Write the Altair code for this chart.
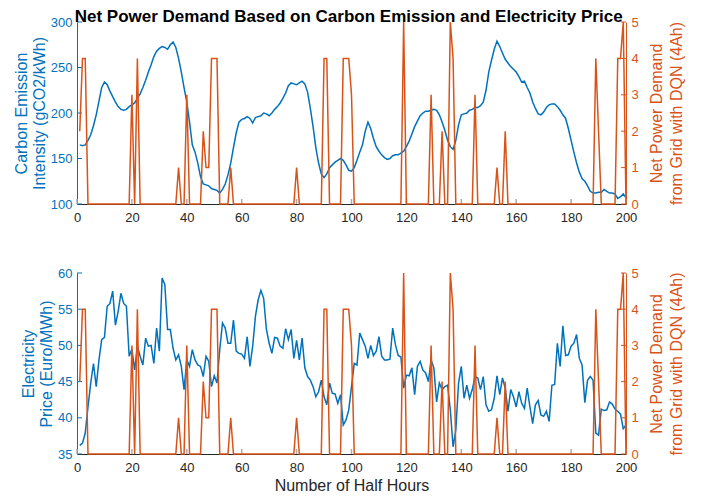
import altair as alt
import pandas as pd

half_hours = list(range(1, 201))

carbon = [
    165, 164, 165, 170, 176, 186, 198, 213, 228, 234,
    231, 224, 218, 212, 207, 204, 203, 204, 207, 209,
    211, 216, 221, 228, 236, 245, 253, 262, 268, 271,
    273, 272, 270, 275, 278, 272, 260, 245, 228, 212,
    190, 165, 157, 145, 130, 122, 121, 120, 117, 116,
    115, 112, 116, 122, 132, 145, 162, 178, 190, 193,
    194, 196, 194, 189, 195, 196, 197, 200, 199, 197,
    200, 204, 207, 211, 216, 222, 230, 233, 232, 231,
    233, 235, 232, 223, 205, 185, 162, 145, 133, 129,
    133, 140, 143, 146, 148, 150, 148, 143, 137, 136,
    140, 148, 157, 165, 180, 190, 183, 172, 163, 158,
    154, 151, 149, 150, 153, 154, 154, 156, 158, 163,
    169, 177, 185, 191, 197, 200, 202, 202, 203, 204,
    203, 198, 190, 181, 170, 163, 160, 170, 187, 198,
    199, 200, 203, 204, 206, 206, 208, 212, 225, 245,
    258, 270, 279, 273, 266, 259, 255, 251, 248, 245,
    240, 234, 235, 228, 222, 212, 205, 199, 198, 201,
    206, 209, 210, 210, 207, 203, 198, 194, 183, 170,
    157, 145, 135, 128, 125, 120, 114, 112, 112, 113,
    113, 116, 114, 112, 112, 111, 106, 108, 111, 107,
]

price = [
    36.2, 36.5, 37.9, 41.5, 44.8, 47.5, 44.3, 48.0, 50.8, 51.1,
    55.4, 55.8, 57.5, 52.8, 54.7, 57.2, 55.8, 55.4, 48.5, 49.5,
    46.6, 49.9, 48.5, 47.3, 51.0, 49.9, 50.0, 47.5, 52.4, 49.2,
    59.3, 58.4, 52.2, 52.2, 49.6, 48.0, 48.7, 47.1, 43.9, 48.0,
    47.1, 49.4, 48.0, 47.3, 47.1, 45.7, 48.5, 47.8, 44.3, 45.8,
    44.8, 49.4, 53.1, 52.4, 50.3, 50.3, 53.5, 49.2, 48.9, 48.8,
    48.2, 51.2, 47.1, 49.9, 54.0, 56.3, 57.6, 56.5, 52.2, 50.3,
    48.9, 51.1, 51.0, 49.9, 49.6, 52.3, 50.8, 52.2, 48.2, 50.7,
    48.0, 51.0, 46.9, 45.7, 45.2, 44.3, 42.9, 43.6, 45.2, 42.9,
    41.8, 44.8, 43.4, 43.3, 42.0, 43.2, 39.0, 39.7, 41.1, 44.3,
    47.5, 47.3, 51.7, 50.8, 49.9, 48.2, 50.0, 48.6, 49.2, 51.2,
    48.5, 48.0, 48.0, 48.1, 52.4, 50.1, 48.6, 48.4, 44.1, 45.9,
    45.8, 46.9, 43.2, 47.1, 47.8, 46.6, 46.2, 45.0, 48.0, 46.9,
    42.2, 44.8, 43.9, 44.3, 44.5, 41.1, 36.0, 38.3, 44.8, 47.1,
    42.7, 44.5, 42.7, 43.9, 45.7, 45.5, 43.9, 45.7, 41.8, 40.9,
    41.1, 42.7, 45.8, 43.2, 45.5, 44.1, 40.9, 43.9, 42.9, 41.5,
    43.6, 42.0, 41.3, 44.1, 41.5, 39.2, 41.8, 42.4, 40.4, 40.2,
    40.9, 39.5, 44.5, 44.6, 50.3, 47.1, 52.7, 48.6, 48.7, 49.9,
    50.3, 51.5, 48.2, 47.3, 42.1, 45.2, 45.7, 45.2, 37.9, 37.6,
    41.2, 41.0, 41.1, 42.2, 41.9, 41.2, 40.9, 40.5, 38.5, 39.0,
]

demand = [
    2, 4, 4, 0, 0, 0, 0, 0, 0, 0,
    0, 0, 0, 0, 0, 0, 0, 0, 0, 3,
    0, 4, 0, 0, 0, 0, 0, 0, 0, 0,
    0, 0, 0, 0, 0, 0, 1, 0, 0, 3,
    0, 0, 0, 0, 0, 2, 1, 1, 4, 4,
    4, 0, 0, 0, 0, 1, 0, 0, 0, 0,
    0, 0, 0, 0, 0, 0, 0, 0, 0, 0,
    0, 0, 0, 0, 0, 0, 0, 0, 0, 1,
    0, 0, 0, 0, 0, 0, 0, 0, 0, 4,
    4, 0, 0, 0, 0, 0, 4, 4, 4, 3,
    0, 0, 0, 0, 0, 0, 0, 0, 0, 0,
    0, 0, 0, 0, 0, 0, 0, 0, 5, 0,
    0, 0, 0, 0, 0, 0, 0, 0, 3, 0,
    0, 0, 2, 0, 0, 5, 4, 0, 0, 0,
    0, 0, 0, 0, 3, 0, 0, 0, 0, 0,
    0, 0, 1, 0, 0, 2, 0, 0, 0, 0,
    0, 0, 0, 0, 0, 0, 0, 0, 0, 0,
    0, 0, 0, 0, 0, 0, 0, 0, 0, 0,
    0, 0, 0, 0, 0, 0, 0, 0, 4, 2,
    0, 0, 0, 0, 0, 0, 4, 4, 5, 0,
]

x_ticks = [0, 20, 40, 60, 80, 100, 120, 140, 160, 180, 200]
carbon_ticks = [100, 150, 200, 250, 300]
price_ticks = [35, 40, 45, 50, 55, 60]
demand_ticks = [0, 1, 2, 3, 4, 5]

BLUE = "#0072BD"
ORANGE = "#D95319"
DARK = "#262626"
FONT = "Liberation Sans"
W = 549

df = pd.DataFrame({"half_hour": half_hours, "carbon": carbon,
                   "price": price, "demand": demand})


def panel(field, dom, ticks, title_lines, height, x_title):
    xscale = alt.Scale(domain=[0, 200], nice=False)
    xaxis = alt.Axis(values=x_ticks, title=x_title, tickSize=0,
                     labelPadding=7, labelFlush=False, domainColor=DARK,
                     labelColor=DARK, titleColor=DARK,
                     labelFontSize=13, titleFontSize=16,
                     titleFontWeight="normal", titlePadding=3,
                     labelFont=FONT, titleFont=FONT, grid=False)
    x = alt.X("half_hour:Q", scale=xscale, axis=xaxis)
    yscale = alt.Scale(domain=dom, nice=False, zero=False)
    blue = alt.Chart(df).mark_line(color=BLUE, strokeWidth=1.5).encode(
        x=x,
        y=alt.Y(f"{field}:Q", scale=yscale,
                axis=alt.Axis(orient="left", values=ticks, title=title_lines,
                              tickSize=0, labelPadding=5, domainColor=BLUE,
                              labelColor=BLUE, titleColor=BLUE,
                              labelFontSize=13, titleFontSize=16,
                              titleFontWeight="normal", titlePadding=3,
                              labelFont=FONT, titleFont=FONT, grid=False)),
    )
    bticks = alt.Chart(pd.DataFrame({"v": ticks})).mark_rule(
        color=BLUE, strokeWidth=1).encode(
        y=alt.Y("v:Q", scale=yscale, axis=None),
        x=alt.value(0), x2=alt.value(5))
    xt = alt.Chart(pd.DataFrame({"half_hour": x_ticks})).mark_rule(
        color="#aaaaaa", strokeWidth=1.5).encode(
        x=x, y=alt.value(height), y2=alt.value(height - 5))
    dscale = alt.Scale(domain=[0, 5], nice=False)
    orange = alt.Chart(df).mark_line(color=ORANGE, strokeWidth=1.5).encode(
        x=x,
        y=alt.Y("demand:Q", scale=dscale,
                axis=alt.Axis(orient="right", values=demand_ticks,
                              title=["Net Power Demand",
                                     "from Grid with DQN (4Ah)"],
                              tickSize=0, labelPadding=5, domainColor=ORANGE,
                              labelColor=ORANGE, titleColor=ORANGE,
                              labelFontSize=13, titleFontSize=16,
                              titleLineHeight=20,
                              titleFontWeight="normal",
                              titleAngle=270, titleBaseline="top",
                              titleAlign="center",
                              titleX=22, titleY=height / 2,
                              labelFont=FONT, titleFont=FONT, grid=False)),
    )
    oticks = alt.Chart(pd.DataFrame({"v": demand_ticks})).mark_rule(
        color=ORANGE, strokeWidth=1).encode(
        y=alt.Y("v:Q", scale=dscale, axis=None),
        x=alt.value(W), x2=alt.value(W - 5))
    return alt.layer(blue, bticks, xt, orange, oticks).resolve_scale(
        y="independent").properties(width=W, height=height)


top = panel("carbon", [100, 300], carbon_ticks,
            ["Carbon Emission", "Intensity (gCO2/kWh)"], 182, None)
bottom = panel("price", [35, 60], price_ticks,
               ["Electricity", "Price (Euro/MWh)"], 181, "Number of Half Hours")

chart = alt.vconcat(top, bottom, spacing=43).properties(
    title=alt.Title("Net Power Demand Based on Carbon Emission and Electricity Price",
                    fontSize=17, font=FONT, fontWeight="bold", color="black",
                    anchor="middle", offset=-10),
    padding={"top": 0, "left": 5, "right": 5, "bottom": 5},
).configure_view(stroke=None)

chart.save("out.html", embed_options={"renderer": "svg", "actions": False})
